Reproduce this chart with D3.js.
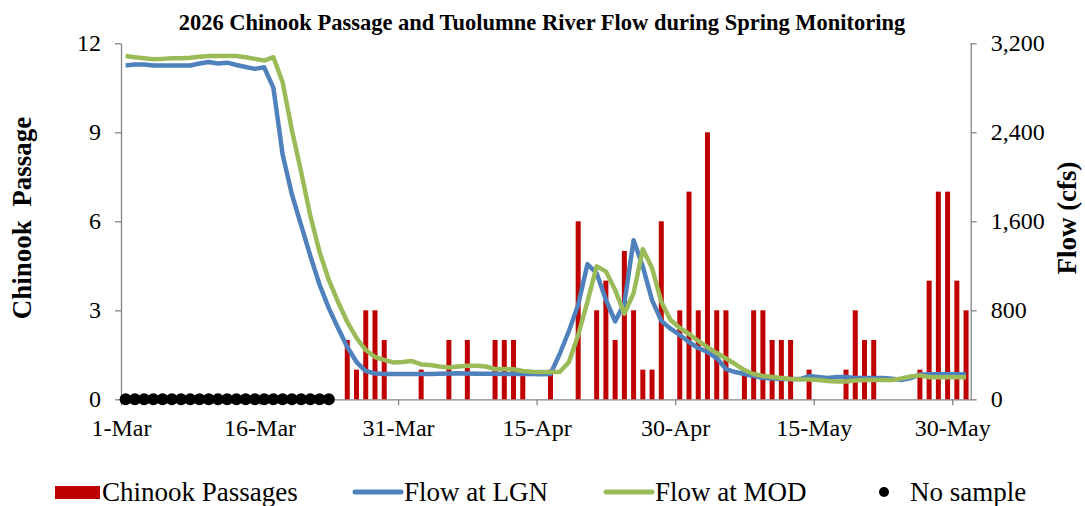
<!DOCTYPE html>
<html>
<head>
<meta charset="utf-8">
<script src="https://cdn.jsdelivr.net/npm/d3@7"></script>
<style>
  body { margin: 0; background: #fff; }
  svg { display: block; }
  text { font-family: "Liberation Serif", "Times New Roman", serif; fill: #000; }
  .axis path, .axis line { stroke: #868686; stroke-width: 1.3; }
  .axis text { font-size: 24px; }
</style>
</head>
<body>
<svg id="chart" width="1085" height="506"></svg>
<script>
// season: 1-Mar to 31-May 2026 (one value per day)
var firstDay = Date.UTC(2026, 2, 1),
    lastDay = Date.UTC(2026, 5, 1);

var tickLabels = ["1-Mar", "16-Mar", "31-Mar", "15-Apr", "30-Apr", "15-May", "30-May"];
var passageTicks = [0, 3, 6, 9, 12];
var flowTicks = [0, 800, 1600, 2400, 3200];

// daily chinook passage, null = no sample
var passage = [
  null, null, null, null, null, null, null, null, null, null,
  null, null, null, null, null, null, null, null, null, null,
  null, null, null, 0, 2, 1, 3, 3, 2, 0,
  0, 0, 1, 0, 0, 2, 0, 2, 0, 0,
  2, 2, 2, 1, 0, 0, 1, 0, 0, 6,
  0, 3, 4, 2, 5, 3, 1, 1, 6, 0,
  3, 7, 3, 9, 3, 3, 0, 1, 3, 3,
  2, 2, 2, 0, 1, 0, 0, 0, 1, 3,
  2, 2, 0, 0, 0, 0, 1, 4, 7, 7,
  4, 3
];

// daily flow (cfs) at LGN
var flowLGN = [
  3000, 3010, 3010, 3000, 3000, 3000, 3000, 3000, 3018, 3032,
  3018, 3026, 3005, 2987, 2970, 2985, 2800, 2200, 1843, 1565,
  1290, 1030, 820, 641, 470, 335, 254, 232, 228, 228,
  228, 228, 228, 228, 230, 232, 234, 232, 230, 230,
  230, 228, 228, 228, 228, 226, 228, 407, 614, 850,
  1215, 1133, 895, 700, 863, 1430, 1193, 892, 705, 635,
  578, 515, 461, 425, 371, 272, 245, 227, 209, 191,
  187, 182, 182, 182, 209, 200, 191, 200, 200, 191,
  191, 191, 191, 185, 173, 191, 223, 225, 225, 225,
  225, 225
];

// daily flow (cfs) at MOD
var flowMOD = [
  3086, 3075, 3065, 3056, 3060, 3065, 3065, 3070, 3080, 3086,
  3086, 3086, 3086, 3075, 3060, 3045, 3075, 2850, 2420, 2045,
  1650, 1325, 1073, 875, 695, 551, 443, 380, 355, 331,
  335, 344, 313, 308, 295, 286, 295, 302, 302, 295,
  272, 272, 270, 254, 248, 245, 245, 245, 335, 578,
  875, 1195, 1150, 983, 770, 953, 1350, 1180, 875, 713,
  641, 587, 524, 470, 416, 367, 317, 263, 227, 209,
  200, 191, 182, 178, 178, 173, 164, 160, 160, 169,
  173, 173, 173, 173, 187, 205, 215, 198, 198, 198,
  198, 198
];

var days = d3.utcDay.range(new Date(firstDay), new Date(lastDay));
var parseTick = d3.utcParse("%d-%b-%Y");
var tickDates = tickLabels.map(function(l) { return parseTick(l + "-2026"); });

var svg = d3.select("#chart"),
    plotLeft = 121, plotRight = 970.7, plotTop = 43.3, plotBottom = 399.3;

var x = d3.scaleUtc().domain([new Date(firstDay), new Date(lastDay)]).range([plotLeft, plotRight]);
var dayW = x(days[1]) - x(days[0]);
var cx = function(i) { return x(days[i]) + dayW / 2; };

var yL = d3.scaleLinear().domain([0, 12]).range([plotBottom, plotTop]);
var yR = d3.scaleLinear().domain([0, 3200]).range([plotBottom, plotTop]);

// title
svg.append("text")
    .attr("x", 542)
    .attr("y", 30)
    .attr("text-anchor", "middle")
    .style("font-size", "22.5px")
    .style("font-weight", "bold")
    .text("2026 Chinook Passage and Tuolumne River Flow during Spring Monitoring");

// axes
svg.append("g")
    .attr("class", "axis")
    .attr("transform", "translate(0," + plotBottom + ")")
    .call(d3.axisBottom(x).tickValues(tickDates)
      .tickFormat(function(d, i) { return tickLabels[i]; })
      .tickSize(6).tickSizeOuter(0).tickPadding(14));

svg.append("g")
    .attr("class", "axis")
    .attr("transform", "translate(" + plotLeft + ",0)")
    .call(d3.axisLeft(yL).tickValues(passageTicks).tickSize(6).tickSizeOuter(0).tickPadding(14));

svg.append("g")
    .attr("class", "axis")
    .attr("transform", "translate(" + plotRight + ",0)")
    .call(d3.axisRight(yR).tickValues(flowTicks).tickFormat(d3.format(","))
      .tickSize(6).tickSizeOuter(0).tickPadding(14));

// axis titles
svg.append("text")
    .attr("transform", "translate(31,218) rotate(-90)")
    .attr("text-anchor", "middle")
    .style("font-size", "27px")
    .style("font-weight", "bold")
    .style("white-space", "pre")
    .text("Chinook  Passage");

svg.append("text")
    .attr("transform", "translate(1076,218) rotate(-90)")
    .attr("text-anchor", "middle")
    .style("font-size", "27px")
    .style("font-weight", "bold")
    .text("Flow (cfs)");

// bars
var barW = 5;
svg.append("g").selectAll("rect")
    .data(passage.map(function(v, i) { return {i: i, v: v}; }).filter(function(d) { return d.v > 0; }))
  .enter().append("rect")
    .attr("x", function(d) { return cx(d.i) - barW / 2; })
    .attr("y", function(d) { return yL(d.v); })
    .attr("width", barW)
    .attr("height", function(d) { return plotBottom - yL(d.v); })
    .attr("fill", "#C00000");

// flow lines
var line = d3.line()
    .x(function(d, i) { return cx(i); })
    .y(function(d) { return yR(d); });

svg.append("path")
    .datum(flowLGN)
    .attr("d", line)
    .attr("fill", "none")
    .attr("stroke", "#4F81BD")
    .attr("stroke-width", 4.5)
    .attr("stroke-linejoin", "round");

svg.append("path")
    .datum(flowMOD)
    .attr("d", line)
    .attr("fill", "none")
    .attr("stroke", "#9BBB59")
    .attr("stroke-width", 4.5)
    .attr("stroke-linejoin", "round");

// no sample markers
svg.append("g").selectAll("circle")
    .data(passage.map(function(v, i) { return {i: i, v: v}; }).filter(function(d) { return d.v === null; }))
  .enter().append("circle")
    .attr("cx", function(d) { return cx(d.i); })
    .attr("cy", yL(0))
    .attr("r", 6)
    .attr("fill", "#000");

// legend
var lg = svg.append("g").style("font-size", "27px");
lg.append("rect").attr("x", 55).attr("y", 486).attr("width", 45).attr("height", 13).attr("fill", "#C00000");
lg.append("text").attr("x", 102).attr("y", 501).text("Chinook Passages");
lg.append("line").attr("x1", 355).attr("x2", 401).attr("y1", 492).attr("y2", 492)
    .attr("stroke", "#4F81BD").attr("stroke-width", 5).attr("stroke-linecap", "round");
lg.append("text").attr("x", 404).attr("y", 501).text("Flow at LGN");
lg.append("line").attr("x1", 606).attr("x2", 652).attr("y1", 492).attr("y2", 492)
    .attr("stroke", "#9BBB59").attr("stroke-width", 5).attr("stroke-linecap", "round");
lg.append("text").attr("x", 655).attr("y", 501).text("Flow at MOD");
lg.append("circle").attr("cx", 884).attr("cy", 492).attr("r", 5).attr("fill", "#000");
lg.append("text").attr("x", 910).attr("y", 501).text("No sample");
</script>
</body>
</html>
